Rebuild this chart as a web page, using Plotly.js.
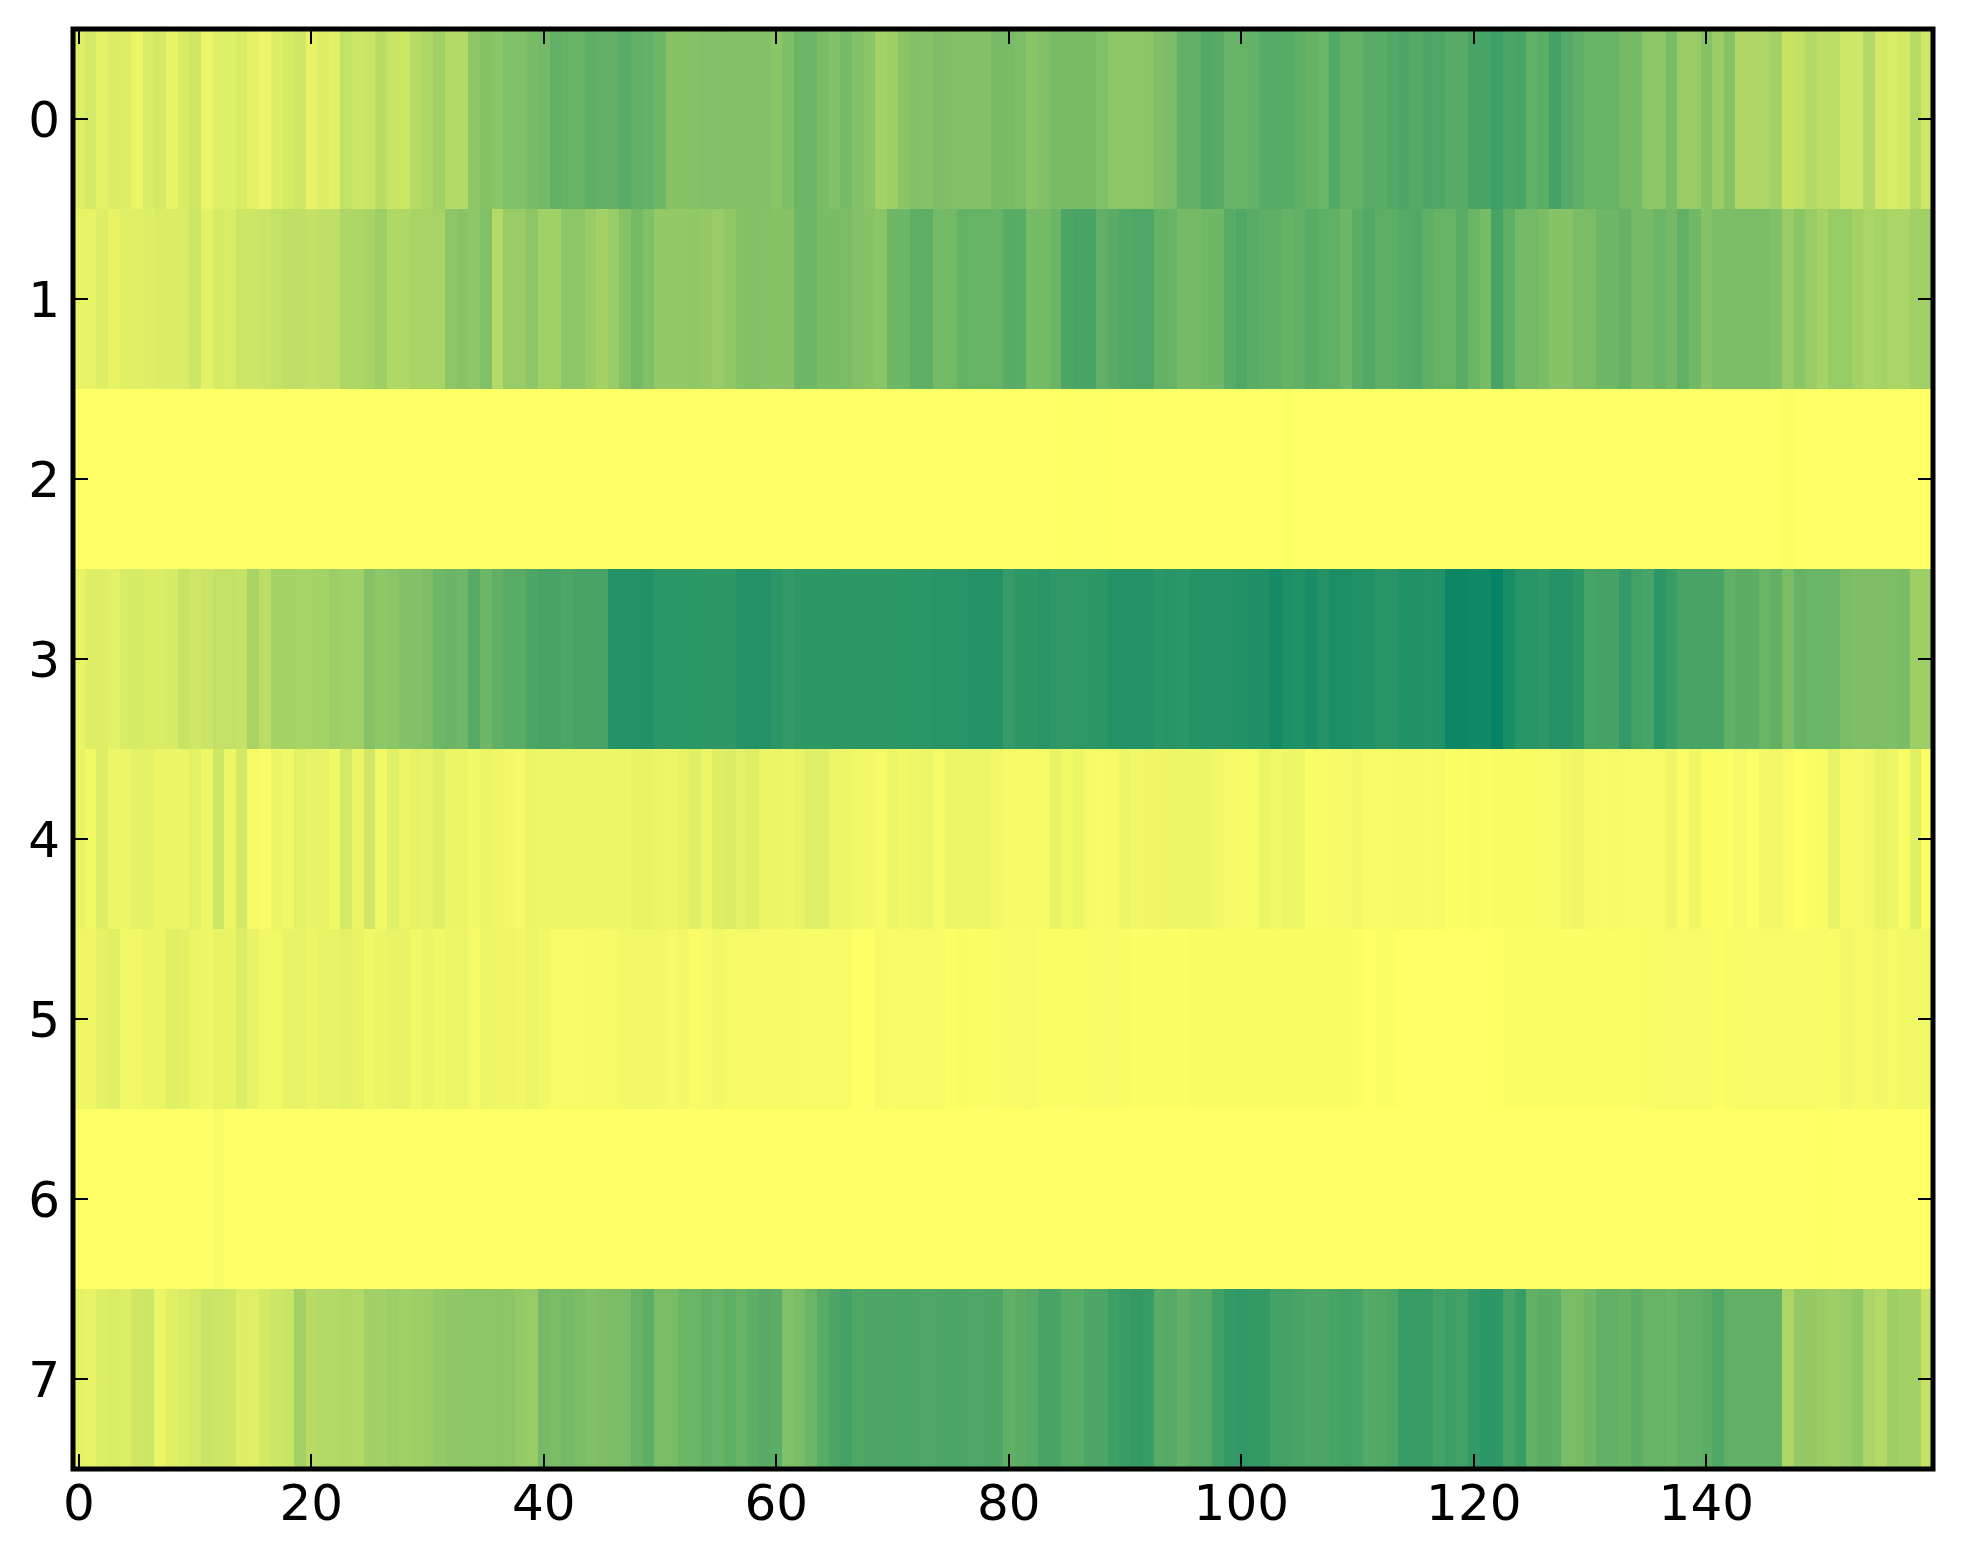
<!DOCTYPE html>
<html>
<head>
<meta charset="utf-8">
<script src="https://cdn.plot.ly/plotly-3.0.1.min.js"></script>
<style>html,body{margin:0;padding:0;background:#fff}#chart{width:1963px;height:1564px}</style>
</head>
<body>
<div id="chart"></div>
<script>
const row0 = [
.13,.17,.11,.14,.13,.08,.14,.17,.09,.15,
.19,.08,.12,.12,.15,.11,.07,.13,.16,.19,
.09,.13,.11,.24,.20,.21,.27,.21,.20,.28,
.32,.37,.30,.30,.45,.47,.46,.50,.50,.53,
.55,.62,.60,.60,.63,.62,.62,.65,.62,.61,
.57,.47,.47,.48,.50,.50,.49,.49,.49,.49,
.46,.51,.58,.58,.52,.50,.54,.49,.46,.36,
.38,.46,.49,.48,.51,.50,.49,.49,.49,.53,
.53,.51,.46,.49,.53,.53,.53,.53,.50,.45,
.45,.45,.46,.51,.52,.62,.62,.68,.66,.60,
.60,.61,.67,.67,.66,.63,.60,.58,.68,.61,
.61,.65,.65,.68,.70,.67,.70,.69,.66,.66,
.72,.72,.76,.71,.72,.62,.64,.73,.67,.63,
.60,.60,.60,.55,.55,.45,.45,.53,.40,.40,
.48,.39,.47,.32,.32,.32,.36,.22,.24,.30,
.26,.26,.19,.19,.30,.17,.15,.17,.29,.19];
const row1 = [
.09,.09,.13,.09,.12,.12,.13,.14,.14,.14,
.20,.11,.16,.15,.20,.20,.21,.23,.25,.25,
.24,.25,.25,.32,.32,.34,.38,.31,.31,.34,
.34,.34,.45,.47,.45,.50,.30,.41,.40,.45,
.37,.37,.45,.45,.40,.36,.40,.48,.55,.50,
.42,.42,.42,.43,.42,.40,.43,.48,.49,.48,
.47,.47,.57,.57,.53,.53,.52,.50,.47,.46,
.57,.57,.63,.63,.54,.55,.61,.60,.60,.60,
.66,.65,.54,.54,.58,.70,.72,.72,.62,.65,
.68,.69,.69,.61,.60,.54,.54,.56,.56,.65,
.69,.65,.63,.63,.60,.62,.65,.63,.62,.57,
.64,.68,.63,.63,.67,.68,.63,.60,.60,.65,
.58,.53,.72,.63,.55,.55,.52,.47,.47,.52,
.52,.57,.57,.60,.54,.54,.58,.55,.62,.56,
.47,.52,.52,.52,.52,.52,.50,.40,.46,.40,
.35,.41,.41,.36,.33,.35,.33,.33,.37,.37];
const row2 = [
0,0,0,0,0,0,0,0,0,0,
0,0,0,0,0,0,0,0,0,0,
0,0,0,0,0,0,0,0,0,0,
0,0,0,0,0,0,0,0,0,0,
0,0,0,0,0,0,0,0,0,0,
0,0,0,0,0,0,0,0,0,0,
0,0,0,0,0,0,0,0,0,0,
0,0,0,0,0,0,0,0,0,0,
0,0,0,0,0,.005,.005,.005,.005,0,
0,0,0,0,0,0,0,0,0,0,
0,0,0,0,.01,0,0,0,0,0,
0,0,0,0,0,0,0,0,0,0,
0,0,0,0,0,0,0,0,0,0,
0,0,0,0,0,0,0,0,0,0,
0,0,0,0,0,0,0,.01,0,0,
0,0,0,0,0,0,0,0,0,0];
const row3 = [
.09,.13,.13,.11,.15,.16,.14,.14,.16,.22,
.19,.21,.24,.24,.22,.34,.27,.35,.35,.34,
.34,.35,.39,.37,.37,.47,.44,.46,.49,.49,
.51,.57,.59,.57,.66,.57,.62,.65,.65,.70,
.72,.72,.70,.72,.72,.72,.85,.86,.86,.87,
.83,.83,.83,.83,.82,.82,.82,.86,.86,.86,
.83,.80,.82,.82,.82,.83,.82,.82,.82,.82,
.82,.83,.83,.83,.84,.84,.84,.86,.86,.86,
.79,.82,.82,.84,.81,.81,.81,.82,.83,.86,
.86,.86,.86,.83,.84,.83,.85,.86,.86,.86,
.87,.88,.88,.92,.88,.87,.90,.86,.89,.89,
.87,.87,.84,.84,.87,.87,.86,.87,.95,.95,
.93,.93,.98,.90,.84,.84,.82,.86,.85,.82,
.72,.73,.73,.80,.74,.72,.83,.78,.72,.72,
.72,.72,.62,.64,.64,.58,.62,.52,.60,.58,
.58,.58,.52,.51,.51,.51,.51,.52,.38,.38];
const row4 = [
.09,.05,.13,.07,.07,.11,.11,.08,.08,.08,
.11,.06,.20,.07,.17,.04,.02,.08,.05,.11,
.09,.09,.05,.17,.08,.18,.05,.12,.07,.10,
.09,.12,.08,.08,.05,.08,.06,.05,.04,.08,
.07,.07,.07,.07,.06,.07,.07,.07,.09,.09,
.08,.07,.09,.12,.07,.13,.14,.11,.13,.08,
.08,.07,.09,.12,.12,.07,.07,.05,.05,.04,
.07,.05,.06,.07,.04,.07,.07,.07,.08,.05,
.04,.04,.04,.04,.09,.05,.07,.04,.03,.04,
.07,.05,.06,.06,.07,.07,.07,.07,.05,.04,
.03,.03,.08,.05,.07,.06,.02,.03,.04,.04,
.05,.03,.03,.03,.04,.04,.03,.04,.01,.01,
.02,.01,.02,.02,.02,.02,.02,.03,.05,.06,
.04,.03,.04,.03,.03,.03,.03,.06,.01,.06,
.01,.01,.01,.04,.01,.05,.05,.02,0,.01,
.02,.09,.04,.04,.05,.09,.07,.02,.12,.01];
const row5 = [
.06,.06,.10,.12,.05,.05,.08,.08,.12,.11,
.08,.06,.09,.09,.14,.09,.05,.05,.09,.09,
.07,.09,.09,.10,.09,.05,.08,.09,.09,.05,
.08,.05,.07,.07,.04,.07,.06,.06,.05,.07,
.05,.03,.03,.03,.04,.04,.04,.05,.05,.05,
.05,.04,.05,.02,.04,.05,.04,.04,.04,.04,
.04,.04,.03,.03,.03,.03,.03,.005,.005,.04,
.02,.03,.03,.03,.03,.01,.02,.01,.015,.015,
.025,.025,.03,.015,.015,.015,.015,.025,.02,.025,
.02,.01,.01,.015,.01,.01,.02,.02,.02,.02,
.02,.02,.02,.02,.02,.02,.02,.02,.02,.02,
.01,0,.01,.01,0,0,0,0,0,0,
0,0,.005,.01,.01,.01,.01,.01,.01,.01,
.01,.01,.01,.015,.015,.02,.03,.03,.03,.03,
.03,.01,.02,.03,.03,.03,.03,.03,.03,.03,
.03,.02,.05,.04,.04,.05,.04,.05,.05,.05];
const row6 = [
0,0,0,0,0,0,0,0,0,0,
0,0,.02,0,0,0,0,0,0,0,
0,0,0,0,0,0,0,0,0,0,
0,0,0,0,0,0,0,0,0,0,
0,0,0,0,0,0,0,0,0,0,
0,0,0,0,0,0,0,0,0,0,
0,0,0,0,0,0,0,0,0,0,
0,0,0,0,0,0,0,0,0,0,
0,0,0,0,0,0,0,0,0,0,
0,0,0,0,0,0,0,0,0,0,
0,0,0,0,0,0,0,0,0,0,
0,0,0,0,0,0,0,0,0,0,
0,0,0,0,0,0,0,0,0,0,
0,0,0,0,0,0,0,0,0,0,
0,0,0,0,0,0,0,0,0,0,
.005,0,0,0,0,0,0,0,0,0];
const row7 = [
.10,.09,.13,.15,.13,.18,.20,.08,.12,.14,
.17,.21,.20,.19,.13,.12,.17,.20,.21,.36,
.28,.30,.30,.31,.30,.37,.36,.39,.37,.38,
.39,.42,.44,.44,.45,.45,.46,.45,.42,.41,
.54,.52,.54,.52,.50,.51,.52,.52,.60,.64,
.52,.53,.58,.58,.62,.60,.63,.60,.63,.66,
.64,.50,.52,.58,.65,.70,.73,.69,.70,.70,
.70,.71,.70,.69,.70,.71,.70,.69,.70,.70,
.62,.64,.66,.72,.72,.66,.65,.70,.70,.76,
.78,.80,.78,.65,.67,.62,.66,.66,.75,.80,
.81,.80,.80,.73,.73,.72,.70,.70,.72,.73,
.72,.67,.68,.70,.78,.78,.78,.73,.76,.74,
.80,.83,.82,.72,.78,.62,.64,.63,.52,.53,
.56,.62,.62,.60,.64,.60,.60,.58,.62,.62,
.64,.69,.62,.62,.62,.62,.62,.32,.42,.42,
.40,.38,.40,.43,.33,.30,.38,.36,.36,.22];
const rowLabels = [0,1,2,3,4,5,6,7];
const xTicks = [0,20,40,60,80,100,120,140];

const z = [row0,row1,row2,row3,row4,row5,row6,row7];
const tickFont = {family:'"DejaVu Sans", sans-serif', size:50, color:'#000'};

Plotly.newPlot('chart', [{
  type:'heatmap',
  z:z,
  y:rowLabels,
  colorscale:[[0,'rgb(255,255,102)'],[1,'rgb(0,128,102)']],
  zmin:0, zmax:1,
  zsmooth:false,
  showscale:false,
  hoverongaps:false
}], {
  width:1963, height:1564,
  margin:{l:73,r:30,t:29,b:95,pad:0},
  paper_bgcolor:'#fff', plot_bgcolor:'#fff',
  showlegend:false,
  xaxis:{range:[-0.5,159.5], tickmode:'array', tickvals:xTicks, ticktext:xTicks.map(String),
    ticks:'inside', ticklen:15, tickwidth:2, tickcolor:'#000', mirror:'allticks',
    showgrid:false, zeroline:false, showline:false, tickfont:tickFont, tickangle:0},
  yaxis:{range:[7.5,-0.5], tickmode:'array', tickvals:rowLabels, ticktext:rowLabels.map(String),
    ticks:'inside', ticklen:15, tickwidth:2, tickcolor:'#000', mirror:'allticks',
    showgrid:false, zeroline:false, showline:false, tickfont:tickFont, ticklabelstandoff:12},
  shapes:[{type:'rect', xref:'paper', yref:'paper', x0:0, x1:1, y0:0, y1:1,
    line:{color:'#000', width:5}, fillcolor:'rgba(0,0,0,0)', layer:'above'}]
}, {staticPlot:true, displayModeBar:false});
</script>
</body>
</html>
